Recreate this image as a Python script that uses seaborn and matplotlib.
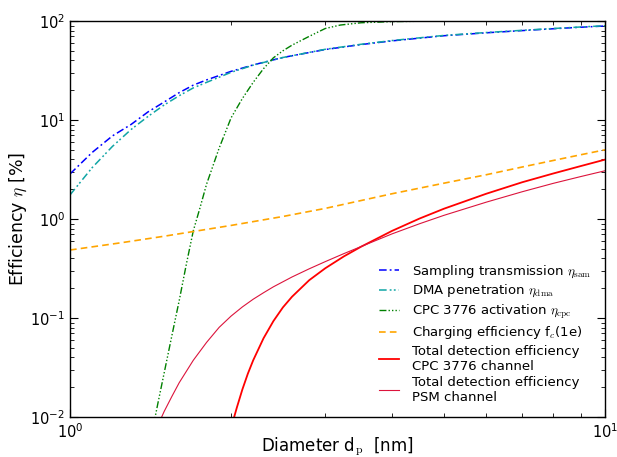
"""Detection efficiency curves of the CPC 3776 and PSM channels."""

import matplotlib

matplotlib.use("Agg")

import matplotlib.pyplot as plt
import matplotlib.ticker as mticker
import seaborn as sns

# diameters [nm] and efficiencies [%]
d_pen = [1.0, 1.1, 1.2, 1.3, 1.4, 1.5, 1.6, 1.7, 1.8, 2.0, 2.2, 2.5, 3.0, 3.5,
         4.0, 5.0, 6.0, 7.0, 8.0, 9.0, 10.0]
eta_sam = [2.85, 4.7, 6.9, 9.0, 12.1, 15.2, 18.9, 22.5, 25.4, 31.0, 36.0, 42.8,
           51.5, 57.8, 63.0, 71.0, 76.0, 80.0, 83.5, 86.5, 89.0]
eta_dma = [1.75, 3.3, 5.4, 8.0, 10.9, 14.2, 17.6, 21.1, 24.0, 30.3, 35.8, 42.8,
           51.8, 58.2, 63.5, 71.5, 76.5, 80.5, 84.0, 87.0, 89.5]

d_cpc = [1.43, 1.46, 1.5, 1.55, 1.6, 1.65, 1.7, 1.75, 1.8, 1.9, 2.0, 2.1, 2.2,
         2.3, 2.4, 2.5, 2.6, 2.8, 3.0, 3.2, 3.5, 4.0, 4.5, 5.0, 6.0, 7.0, 8.0, 10.0]
eta_cpc = [0.0079, 0.0138, 0.028, 0.066, 0.15, 0.35, 0.76, 1.3, 2.25, 5.2, 10.5,
           16.5, 24.0, 33.0, 42.5, 50.0, 57.0, 70.0, 84.0, 91.0, 96.0, 98.6, 99.4,
           99.7, 99.9, 99.95, 100.0, 100.0]

d_chg = [1.0, 1.25, 1.5, 2.0, 2.5, 3.0, 4.0, 5.0, 6.0, 7.0, 8.0, 9.0, 10.0]
eta_chg = [0.486, 0.577, 0.67, 0.861, 1.06, 1.28, 1.8, 2.3, 2.8, 3.35, 3.9, 4.45, 5.0]

d_tot = [2.0, 2.05, 2.1, 2.15, 2.2, 2.3, 2.4, 2.5, 2.6, 2.8, 3.0, 3.25, 3.5, 4.0,
         4.5, 5.0, 6.0, 7.0, 8.0, 9.0, 10.0]
eta_tot_cpc = [0.00774, 0.0124, 0.019, 0.0274, 0.0374, 0.0624, 0.0931, 0.128,
               0.164, 0.241, 0.318, 0.419, 0.525, 0.759, 1.01, 1.27, 1.8, 2.35,
               2.88, 3.42, 3.98]

d_psm = [1.47, 1.5, 1.55, 1.6, 1.7, 1.8, 1.9, 2.0, 2.1, 2.2, 2.3, 2.4, 2.6, 2.8,
         3.0, 3.25, 3.5, 4.0, 4.5, 5.0, 6.0, 7.0, 8.0, 9.0, 10.0]
eta_tot_psm = [0.00895, 0.0114, 0.0161, 0.0222, 0.0374, 0.0567, 0.0804, 0.1045,
               0.1294, 0.1548, 0.18, 0.2066, 0.2596, 0.314, 0.371, 0.447, 0.527,
               0.708, 0.895, 1.089, 1.48, 1.884, 2.29, 2.68, 3.07]

labels = [
    r"Sampling transmission $\eta_{\rm sam}$",
    r"DMA penetration $\eta_{\rm dma}$",
    r"CPC 3776 activation $\eta_{\rm cpc}$",
    r"Charging efficiency f$_c$(1e)",
    "Total detection efficiency\nCPC 3776 channel",
    "Total detection efficiency\nPSM channel",
]

plt.rcParams.update({
    "font.family": ["DejaVu Sans"],
    "mathtext.fontset": "cm",
    "axes.unicode_minus": False,
    "xtick.direction": "in",
    "ytick.direction": "in",
    "xtick.top": True,
    "ytick.right": True,
    "xtick.major.size": 6,
    "ytick.major.size": 6,
    "xtick.minor.size": 3,
    "ytick.minor.size": 3,
    "xtick.labelsize": 10.5,
    "ytick.labelsize": 10.5,
    "axes.linewidth": 1.0,
})

fig = plt.figure(figsize=(6.17, 4.57), dpi=100)
ax = fig.add_axes([70 / 617, 40 / 457, 535 / 617, 396 / 457])

series = [
    (d_pen, eta_sam, "#0000ff", (0, (5, 2, 1.2, 2)), 1.1),
    (d_pen, eta_dma, "#10a5a5", (0, (5, 2, 1.2, 1.5, 1.2, 2)), 1.1),
    (d_cpc, eta_cpc, "#008000", (0, (5, 1.5, 1, 1.5, 1, 1.5, 1, 1.5)), 1.0),
    (d_chg, eta_chg, "orange", (0, (4, 2.5)), 1.2),
    (d_tot, eta_tot_cpc, "red", "-", 1.3),
    (d_psm, eta_tot_psm, "crimson", "-", 0.8),
]
for (x, y, color, style, width), label in zip(series, labels):
    sns.lineplot(x=x, y=y, ax=ax, color=color, linestyle=style, linewidth=width,
                 label=label, errorbar=None)

ax.set_xscale("log")
ax.set_yscale("log")
ax.set_xlim(1, 10)
ax.set_ylim(0.01, 100)
ax.xaxis.set_minor_formatter(mticker.NullFormatter())
ax.yaxis.set_minor_formatter(mticker.NullFormatter())
ax.set_xlabel(r"Diameter d$_{\rm p}$  [nm]", fontsize=12)
ax.set_ylabel(r"Efficiency $\eta$ [%]", fontsize=12.5)
ax.xaxis.set_label_coords(0.5, -0.047)
ax.yaxis.set_label_coords(-0.076, 0.5)

ax.legend(loc="lower right", frameon=False, fontsize=9.5, handlelength=1.5,
          handletextpad=1.0, labelspacing=0.25, borderaxespad=0.6)

fig.savefig("out.png", dpi=100)
